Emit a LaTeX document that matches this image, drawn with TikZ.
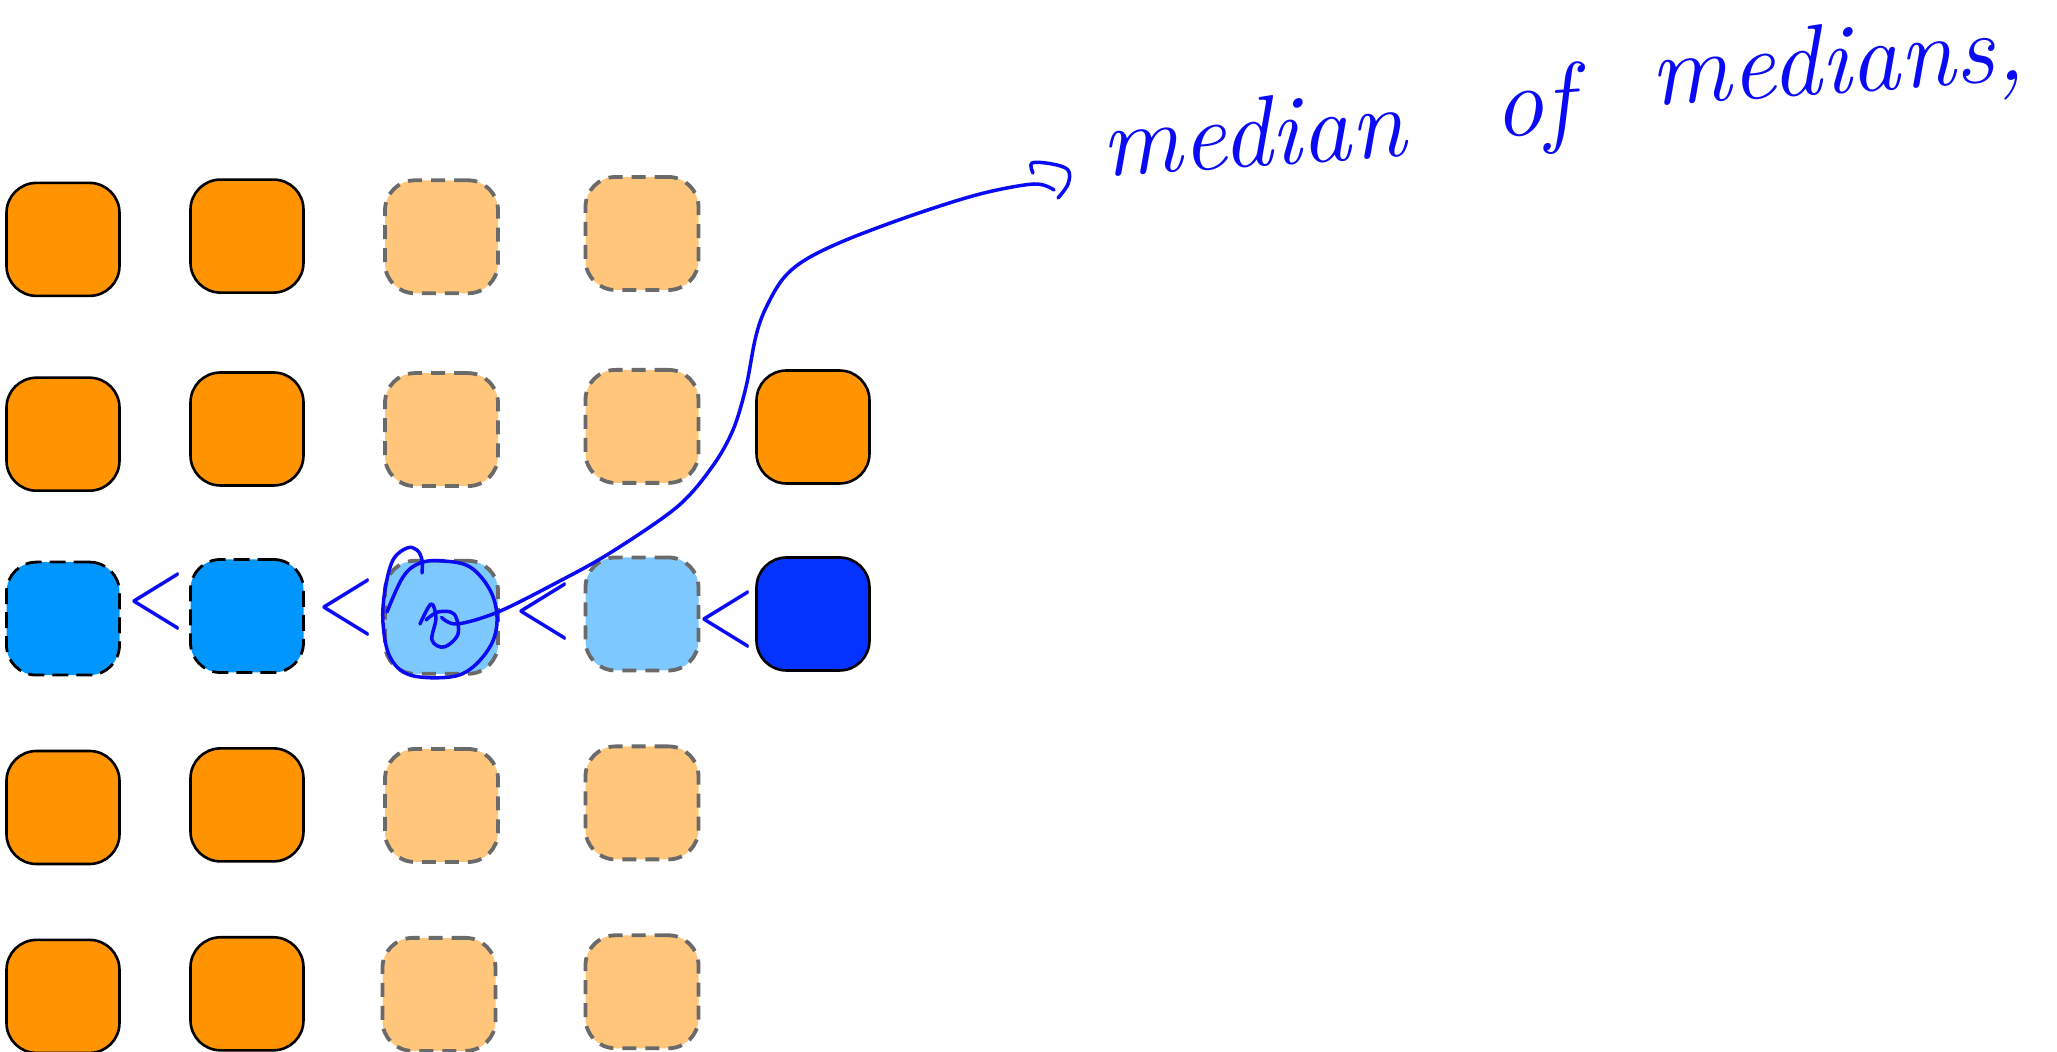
\documentclass[tikz,border=0pt]{standalone}
\definecolor{orng}{HTML}{FF9300}
\definecolor{palor}{HTML}{FFC67C}
\definecolor{aqua}{HTML}{0096FF}
\definecolor{palblue}{HTML}{7CC8FF}
\definecolor{deepblue}{HTML}{0433FF}
\definecolor{dashgray}{HTML}{6A6A6A}
\definecolor{ink}{HTML}{0A0AF5}
\newcommand{\lessglyph}{\scalebox{0.75}[1]{<}}
\begin{document}
\begin{tikzpicture}[x=0.5pt,y=-0.5pt,
  box/.style={rectangle, rounded corners=15pt, minimum width=56.5pt, minimum height=56.5pt, inner sep=0pt},
  solidor/.style={box, fill=orng, draw=black, line width=1.3pt},
  paleor/.style={box, fill=palor, draw=dashgray, line width=1.9pt, dash pattern=on 7pt off 4.5pt},
  aquabox/.style={box, fill=aqua, draw=black, line width=1.4pt, dash pattern=on 8pt off 4pt},
  paleblue/.style={box, fill=palblue, draw=dashgray, line width=1.9pt, dash pattern=on 7pt off 4.5pt},
  deepbox/.style={box, fill=deepblue, draw=black, line width=1.3pt},
  hand/.style={draw=ink, line width=1.75pt, line cap=round, line join=round},
  handtext/.style={text=ink, font=\fontsize{50}{54}\selectfont\itshape, inner sep=0pt},
  lessmark/.style={text=ink, font=\fontsize{52}{56}\selectfont, inner sep=0pt}
]
\useasboundingbox (0,0) rectangle (2057,1052);

% row 1
\node[solidor] (c11) at (63,239.4) {};
\node[solidor] (c12) at (247,236.1) {};
\node[paleor]  (c13) at (441.5,236.8) {};
\node[paleor]  (c14) at (642,233.5) {};
% row 2
\node[solidor] (c21) at (63,434.2) {};
\node[solidor] (c22) at (247,429) {};
\node[paleor]  (c23) at (441.5,429.6) {};
\node[paleor]  (c24) at (642,426.4) {};
\node[solidor] (c25) at (813,427) {};
% row 3
\node[aquabox]  (c31) at (63,618.6) {};
\node[aquabox]  (c32) at (247,616) {};
\node[paleblue] (c33) at (441.5,617.3) {};
\node[paleblue] (c34) at (642,614) {};
\node[deepbox]  (c35) at (813,614) {};
% row 4
\node[solidor] (c41) at (63,807.5) {};
\node[solidor] (c42) at (247,804.9) {};
\node[paleor]  (c43) at (441.5,805.5) {};
\node[paleor]  (c44) at (642,802.9) {};
% row 5
\node[solidor] (c51) at (63,996.4) {};
\node[solidor] (c52) at (247,993.8) {};
\node[paleor]  (c53) at (439,994.4) {};
\node[paleor]  (c54) at (642,991.8) {};

% less-than marks
\node[lessmark] (l1) at (156,602) {\lessglyph};
\node[lessmark] (l2) at (346,608) {\lessglyph};
\node[lessmark] (l3) at (543,612) {\lessglyph};
\node[lessmark] (l4) at (726,620) {\lessglyph};

% circle around the median
\draw[hand] plot[smooth, tension=0.6] coordinates {(387,612) (403,577) (420,563) (443,561) (470,567) (490,590) (497,617) (492,643) (473,667) (450,677) (410,675) (390,657) (383,623) (385,590) (393,560) (407,548) (417,550) (422,560) (422,573)};
% small mark in the centre
\draw[hand] plot[smooth, tension=0.6] coordinates {(420,624) (431,604) (436,618) (432,640) (444,647) (458,634) (454,614) (438,612) (426,620)};

% text
\node[handtext, anchor=base west, rotate=4] (t1) at (1103,177) {median};
\node[handtext, anchor=base west, rotate=4] (t2) at (1495,138) {of};
\node[handtext, anchor=base west, rotate=4] (t3) at (1652,106) {medians,};

% long curve to the text
\coordinate (tip) at (1054,190);
\draw[hand] plot[smooth, tension=0.55] coordinates {(c33.center) (457,624) (498,612) (556,583) (610,553) (677,507) (712,467) (733,430) (746,387) (755,340) (764,312) (782,280) (805,260) (846,240) (913,215) (980,194) (1034,184) (tip)};
\draw[hand] plot[smooth, tension=0.6] coordinates {(1033,173) (1032,163) (1052,164) (1068,170) (1068,184) (1058,198)};
\end{tikzpicture}
\end{document}
